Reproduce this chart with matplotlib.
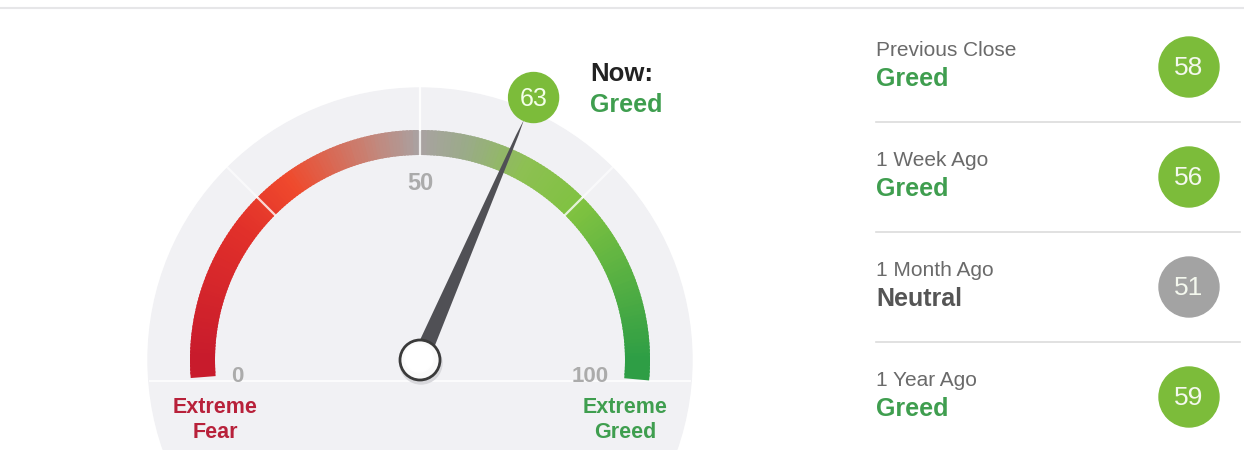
import numpy as np
import matplotlib.pyplot as plt
from matplotlib.patches import Wedge, Circle, Polygon
from matplotlib.colors import LinearSegmentedColormap

plt.rcParams['font.family'] = ['Liberation Sans', 'DejaVu Sans']

# data
now_value = 63
now_label = "Greed"
gauge_ticks = [0, 50, 100]
dividers = [25, 50, 75]
hist_labels = ["Previous Close", "1 Week Ago", "1 Month Ago", "1 Year Ago"]
hist_status = ["Greed", "Greed", "Neutral", "Greed"]
hist_values = [58, 56, 51, 59]

GREEN_TXT = "#3f9e4f"
RED_TXT = "#b8213a"
status_color = {"Greed": GREEN_TXT, "Neutral": "#555555"}
bubble_color = {"Greed": "#7cbc3a", "Neutral": "#a3a3a3"}

cmap = LinearSegmentedColormap.from_list("fg", [
    (0.00, "#c81b2c"), (0.20, "#e1302a"), (0.30, "#ef4a2d"),
    (0.42, "#c88173"), (0.50, "#a9a2a2"), (0.57, "#9aab88"),
    (0.66, "#8dc052"), (0.76, "#7fc240"), (1.00, "#2e9e45")])

fig = plt.figure(figsize=(12.44, 4.5), dpi=100)
ax = fig.add_axes([0, 0, 1, 1])
ax.set_xlim(0, 1244)
ax.set_ylim(450, 0)
ax.set_aspect("equal")
ax.axis("off")

# top rule
ax.plot([0, 1244], [8, 8], color="#e6e6e8", lw=1.5)

cx, cy = 420, 360
r_bg, r_out, r_in = 272, 230, 205


def ang(v):
    return 180 - v * 1.8


# background disc (clipped by the axes at the bottom)
ax.add_patch(Circle((cx, cy), r_bg, color="#f1f1f4", zorder=1))
ax.plot([cx - r_bg + 2, cx + r_bg - 2], [cy + 21, cy + 21], color="#fbfbfc", lw=1.5, zorder=1.5)

# gradient arc
steps = np.linspace(-2.5, 102.5, 211)
for a, b in zip(steps[:-1], steps[1:]):
    v = min(max((a + b) / 2, 0), 100)
    # y axis inverted, so angles are mirrored
    ax.add_patch(Wedge((cx, cy), r_out, -ang(a), -ang(b) + 0.6,
                       width=r_out - r_in, color=cmap(v / 100), lw=0, zorder=2))

# dividers
for d in dividers:
    t = np.radians(ang(d))
    ax.plot(cx + np.array([r_in, r_out]) * np.cos(t), cy - np.array([r_in, r_out]) * np.sin(t),
            color="white", lw=1.6, alpha=0.8, zorder=3)
    ax.plot(cx + np.array([r_out, r_bg]) * np.cos(t), cy - np.array([r_out, r_bg]) * np.sin(t),
            color="white", lw=1.6, alpha=0.9 if d == 50 else 0.6, zorder=3)

# tick labels
ax.text(cx, 184, str(gauge_ticks[1]), ha="center", va="center", fontsize=17,
        fontweight="bold", color="#ababab", zorder=4)
ax.text(237, 377, str(gauge_ticks[0]), ha="center", va="center", fontsize=16,
        fontweight="bold", color="#ababab", zorder=4)
ax.text(590, 377, str(gauge_ticks[2]), ha="center", va="center", fontsize=16,
        fontweight="bold", color="#ababab", zorder=4)
ax.text(215, 420, "Extreme\nFear", ha="center", va="center", fontsize=15.5,
        fontweight="bold", color=RED_TXT, linespacing=1.3, zorder=4)
ax.text(625, 420, "Extreme\nGreed", ha="center", va="center", fontsize=15.5,
        fontweight="bold", color=GREEN_TXT, linespacing=1.3, zorder=4)

# needle
t = np.radians(ang(now_value))
u = np.array([np.cos(t), -np.sin(t)])
p = np.array([-u[1], u[0]])
c = np.array([cx, cy])
tip = c + u * 262
ax.add_patch(Polygon([c + p * 8.5, c + u * 245 + p * 1.2, tip, c + u * 245 - p * 1.2, c - p * 8.5],
                     closed=True, color="#505055", lw=0, zorder=5))

# knob
ax.add_patch(Circle((cx + 1, cy + 3), 21, color="#d8d8dc", zorder=6))
ax.add_patch(Circle((cx, cy), 20, facecolor="#fafafa", edgecolor="#3a3a3a", lw=2, zorder=6))
ax.add_patch(Circle((cx - 1, cy - 2), 14, color="#ffffff", zorder=6))

# now bubble
bpos = c + u * 286
ax.add_patch(Circle(bpos, 25, color=bubble_color[now_label], zorder=7))
ax.text(bpos[0], bpos[1] + 1, str(now_value), ha="center", va="center",
        fontsize=18, color="#f4ffe8", zorder=8)
ax.text(590, 74, "Now:", ha="left", va="center", fontsize=18.5,
        fontweight="bold", color="#222222")
ax.text(590, 105, now_label, ha="left", va="center", fontsize=18,
        fontweight="bold", color=GREEN_TXT)

# history panel
row0, row_h = 67, 110
for i, (lab, st, val) in enumerate(zip(hist_labels, hist_status, hist_values)):
    y = row0 + i * row_h
    ax.text(876, y - 17, lab, ha="left", va="center", fontsize=15, color="#6a6a6a")
    ax.text(876, y + 12, st, ha="left", va="center", fontsize=18,
            fontweight="bold", color=status_color[st])
    ax.add_patch(Circle((1189, y), 30, color=bubble_color[st], zorder=3))
    ax.text(1189, y + 1, str(val), ha="center", va="center", fontsize=19,
            color="#f4f8ee", zorder=4)
    if i < len(hist_labels) - 1:
        ax.plot([876, 1240], [y + 55, y + 55], color="#dcdcdc", lw=1.2)

fig.savefig("out.png", dpi=100)
